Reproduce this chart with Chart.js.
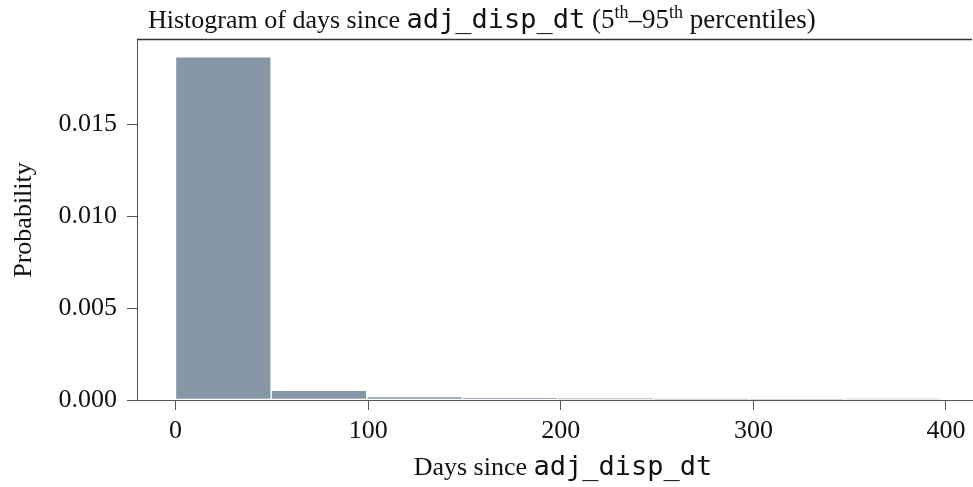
<!DOCTYPE html>
<html>
<head>
<meta charset="utf-8">
<script src="https://cdn.jsdelivr.net/npm/chart.js@4.4.1/dist/chart.umd.min.js"></script>
<style>
  html, body { margin: 0; padding: 0; background: #fff; }
  #wrap { width: 973px; height: 487px; position: relative; }
</style>
</head>
<body>
<div id="wrap"><canvas id="myChart" width="973" height="487"></canvas></div>
<script>
// histogram bins (days) and their probability density
var binEdges = [0, 49.6, 99.3, 148.9, 198.5, 248.1, 297.8, 347.4, 397];
var probabilities = [0.01869, 0.00052, 0.00019, 0.00014, 0.00009, 0.00006, 0.00005, 0.00008];
var xTickValues = [0, 100, 200, 300, 400];
var yTickValues = [0, 0.005, 0.010, 0.015];

var serif = "'Liberation Serif', 'DejaVu Serif', serif";
var mono = "'DejaVu Sans Mono', 'Liberation Mono', monospace";
var axisColor = '#555';

var points = probabilities.map(function(p, i) {
  return { x: (binEdges[i] + binEdges[i + 1]) / 2, y: p };
});

// draws a line of text made of several font runs
function drawRuns(ctx, runs, x, y, align) {
  var total = 0;
  runs.forEach(function(r) { ctx.font = r.font; total += ctx.measureText(r.text).width; });
  var cx = align === 'center' ? x - total / 2 : x;
  ctx.textAlign = 'left';
  ctx.textBaseline = 'alphabetic';
  runs.forEach(function(r) {
    ctx.font = r.font;
    ctx.fillText(r.text, cx, y - (r.rise || 0));
    cx += ctx.measureText(r.text).width;
  });
}

var decorations = {
  id: 'decorations',
  afterDraw: function(chart) {
    var ctx = chart.ctx, area = chart.chartArea;
    ctx.save();
    // top frame line
    ctx.strokeStyle = '#333';
    ctx.lineWidth = 1.5;
    ctx.beginPath();
    ctx.moveTo(area.left, 39.5);
    ctx.lineTo(area.right, 39.5);
    ctx.stroke();

    ctx.fillStyle = '#111';
    var f = '26px ' + serif, f2 = '27px ' + serif, fm = '27px ' + mono, fs = '18px ' + serif;
    drawRuns(ctx, [
      { text: 'Histogram of days since ', font: f },
      { text: 'adj_disp_dt', font: fm },
      { text: ' (5', font: f2 },
      { text: 'th', font: fs, rise: 10 },
      { text: '\u201395', font: f2 },
      { text: 'th', font: fs, rise: 10 },
      { text: ' percentiles)', font: f2 }
    ], 148, 28, 'left');

    drawRuns(ctx, [
      { text: 'Days since ', font: f },
      { text: 'adj_disp_dt', font: fm }
    ], 563, 475, 'center');

    ctx.translate(31, 220);
    ctx.rotate(-Math.PI / 2);
    ctx.font = f;
    ctx.textAlign = 'center';
    ctx.textBaseline = 'alphabetic';
    ctx.fillText('Probability', 0, 0);
    ctx.restore();
  }
};

var ctx = document.getElementById('myChart').getContext('2d');
var chart = new Chart(ctx, {
  type: 'bar',
  data: {
    datasets: [{
      data: points,
      backgroundColor: '#8797a8',
      borderColor: '#ffffff',
      borderWidth: 1,
      borderSkipped: false,
      barPercentage: 1,
      categoryPercentage: 1
    }]
  },
  options: {
    responsive: false,
    animation: false,
    layout: { padding: { left: 0, right: 1, top: 39, bottom: 0 } },
    plugins: { legend: { display: false }, tooltip: { enabled: false } },
    scales: {
      x: {
        type: 'linear',
        offset: false,
        min: -20,
        max: 413.5,
        grid: { offset: false, drawOnChartArea: false, tickLength: 10, tickColor: axisColor },
        border: { color: axisColor, width: 1 },
        ticks: {
          color: '#111',
          padding: 6,
          maxRotation: 0,
          font: { family: serif, size: 26 },
          callback: function(v) { return String(v); }
        },
        afterBuildTicks: function(scale) {
          scale.ticks = xTickValues.map(function(v) { return { value: v }; });
        },
        afterFit: function(scale) { scale.height = 87; }
      },
      y: {
        min: 0,
        max: 0.01966,
        grid: { drawOnChartArea: false, tickLength: 10, tickColor: axisColor },
        border: { color: axisColor, width: 1 },
        ticks: {
          color: '#111',
          padding: 10,
          font: { family: serif, size: 26 },
          callback: function(v) { return Number(v).toFixed(3); }
        },
        afterBuildTicks: function(scale) {
          scale.ticks = yTickValues.map(function(v) { return { value: v }; });
        },
        afterFit: function(scale) { scale.width = 137; }
      }
    }
  },
  plugins: [decorations]
});
</script>
</body>
</html>
